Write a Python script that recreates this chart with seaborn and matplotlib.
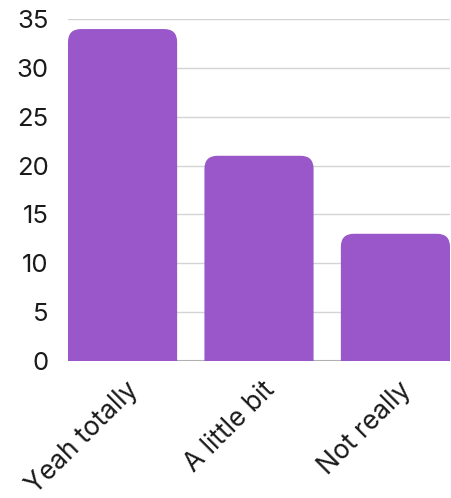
import matplotlib
matplotlib.use("Agg")
import matplotlib.pyplot as plt
import matplotlib.transforms as mtransforms
from matplotlib.patches import FancyBboxPatch
import seaborn as sns
import pandas as pd

categories = ["Yeah totally", "A little bit", "Not really"]
counts = [34, 21, 13]
y_ticks = [0, 5, 10, 15, 20, 25, 30, 35]

bar_color = "#9A57C9"

sns.set_style("white")
plt.rcParams["font.family"] = ["Inter", "DejaVu Sans"]

df = pd.DataFrame({"answer": categories, "count": counts})

fig = plt.figure(figsize=(4.52, 4.98), dpi=100)
ax = fig.add_axes([68 / 452, 1 - 360.5 / 498, 382 / 452, 341.2 / 498])

sns.barplot(data=df, x="answer", y="count", color=bar_color, width=0.8,
            saturation=1, ax=ax, zorder=3)

# swap plain bars for ones with rounded tops
px_x = 382 / 2.8
px_y = 341.2 / 35
radius = 13 / px_x
for bar in list(ax.patches):
    x0, w, h = bar.get_x(), bar.get_width(), bar.get_height()
    bar.remove()
    extra = 3
    rounded = FancyBboxPatch((x0, -extra), w, h + extra,
                             boxstyle=f"round,pad=0,rounding_size={radius}",
                             mutation_aspect=px_x / px_y,
                             facecolor=bar_color, edgecolor="none", zorder=3)
    ax.add_patch(rounded)

ax.set_xlim(-0.4, 2.4)
ax.set_ylim(0, 35)
ax.set_yticks(y_ticks)
ax.yaxis.grid(True, color="#d4d4d4", linewidth=1, zorder=0)
ax.axhline(0, color="#b0b0b0", linewidth=1.5, zorder=1)
for s in ax.spines.values():
    s.set_visible(False)

ax.set_xlabel("")
ax.set_ylabel("")
ax.tick_params(axis="y", length=0, pad=14, labelsize=18.5, labelcolor="#1a1a1a")
ax.tick_params(axis="x", length=0, pad=12, labelsize=19, labelcolor="#1a1a1a")
offset = mtransforms.ScaledTranslation(3 / 100, 0, fig.dpi_scale_trans)
for lbl in ax.get_xticklabels():
    lbl.set_rotation(45)
    lbl.set_ha("right")
    lbl.set_va("top")
    lbl.set_rotation_mode("anchor")
    lbl.set_transform(lbl.get_transform() + offset)

fig.savefig("out.png", dpi=100)
